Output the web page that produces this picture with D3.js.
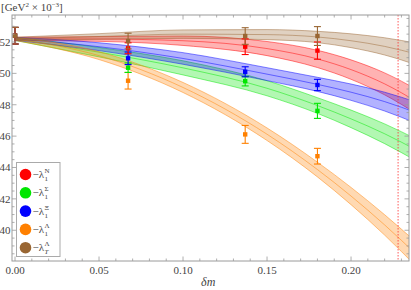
<!DOCTYPE html>
<html><head><meta charset="utf-8">
<script src="https://cdn.jsdelivr.net/npm/d3@7"></script>
<style>
html,body{margin:0;padding:0;background:#fff;}
svg{display:block;}
text{font-family:"Liberation Serif","DejaVu Serif",serif;}
</style></head>
<body><svg id="c" width="411" height="290"></svg>
<script>
// ---- data ----
const seriesNames = ["N", "Sigma", "Xi", "Lambda", "LambdaT"];
const seriesColors = ["#ff0000", "#00e600", "#0000ff", "#ff8000", "#996633"];
// sampled fit bands (centre and half width) at these δm
const bandX = [0, 0.05, 0.10, 0.15, 0.18, 0.20, 0.22, 0.24];
const bandN       = [52.2, 52.19, 52.08, 51.58, 50.92, 50.24, 49.33, 48.14];
const bandNErr    = [0.1, 0.15, 0.3, 0.45, 0.55, 0.62, 0.7, 0.78];
const bandSigma   = [52.2, 51.35, 50.35, 49.05, 47.95, 47.1, 46.15, 45.05];
const bandSigmaErr= [0.1, 0.3, 0.45, 0.48, 0.5, 0.56, 0.63, 0.7];
const bandXi      = [52.2, 51.7, 50.95, 49.95, 49.3, 48.8, 48.2, 47.45];
const bandXiErr   = [0.1, 0.25, 0.37, 0.41, 0.45, 0.52, 0.6, 0.68];
const bandLam     = [52.2, 51.13, 49.1, 46.12, 43.87, 42.18, 40.34, 38.34];
const bandLamErr  = [0.1, 0.25, 0.32, 0.4, 0.47, 0.55, 0.65, 0.78];
const bandLamT    = [52.2, 52.35, 52.5, 52.47, 52.32, 52.08, 51.72, 51.2];
const bandLamTErr = [0.1, 0.18, 0.27, 0.32, 0.36, 0.44, 0.55, 0.7];
// lattice points
const pointX = [0, 0.0673, 0.137, 0.180];
const ptN        = [52.4, 51.6, 51.7, 51.45];
const ptNErr     = [0.53, 0.35, 0.5, 0.55];
const ptSigma    = [52.4, 50.36, 49.5, 47.61];
const ptSigmaErr = [0.53, 0.3, 0.3, 0.48];
const ptXi       = [52.4, 50.96, 50.1, 49.26];
const ptXiErr    = [0.53, 0.4, 0.32, 0.36];
const ptLam      = [52.4, 49.53, 46.11, 44.72];
const ptLamErr   = [0.53, 0.53, 0.57, 0.5];
const ptLamT     = [52.4, 52.06, 52.38, 52.38];
const ptLamTErr  = [0.53, 0.5, 0.53, 0.6];
const xTicks = [0, 0.05, 0.10, 0.15, 0.20];
const yTicks = [40, 42, 44, 46, 48, 50, 52];
const cutLine = 0.228;

const bands = [
  {c: bandN, e: bandNErr}, {c: bandSigma, e: bandSigmaErr}, {c: bandXi, e: bandXiErr},
  {c: bandLam, e: bandLamErr}, {c: bandLamT, e: bandLamTErr}];
const pts = [
  {v: ptN, e: ptNErr}, {v: ptSigma, e: ptSigmaErr}, {v: ptXi, e: ptXiErr},
  {v: ptLam, e: ptLamErr}, {v: ptLamT, e: ptLamTErr}];

// ---- layout ----
const L = 12, R = 409, T = 15, B = 261;
const x = d3.scaleLinear().domain([-0.0018, 0.2345]).range([L, R]);
const y = d3.scaleLinear().domain([38.04, 53.72]).range([B, T]);
const svg = d3.select("#c");
const frameCol = "#9a9a9a", labCol = "#444";

svg.append("clipPath").attr("id", "clip").append("rect")
  .attr("x", L).attr("y", T).attr("width", R - L).attr("height", B - T);
const plot = svg.append("g").attr("clip-path", "url(#clip)");

// bands
bands.forEach((b, i) => {
  const col = seriesColors[i];
  const rows = bandX.map((xx, k) => ({x: xx, c: b.c[k], lo: b.c[k] - b.e[k], hi: b.c[k] + b.e[k]}));
  const area = d3.area().curve(d3.curveMonotoneX).x(d => x(d.x)).y0(d => y(d.lo)).y1(d => y(d.hi));
  plot.append("path").datum(rows).attr("d", area).attr("fill", col).attr("fill-opacity", 0.3);
  ["lo", "c", "hi"].forEach(key => {
    const ln = d3.line().curve(d3.curveMonotoneX).x(d => x(d.x)).y(d => y(d[key]));
    plot.append("path").datum(rows).attr("d", ln).attr("fill", "none")
      .attr("stroke", col).attr("stroke-opacity", 0.6).attr("stroke-width", 0.8);
  });
});

// dotted line
plot.append("line").attr("x1", x(cutLine)).attr("x2", x(cutLine)).attr("y1", T).attr("y2", B)
  .attr("stroke", "#ff3030").attr("stroke-width", 1).attr("stroke-dasharray", "1.5,1.5").attr("stroke-opacity", 0.8);

// points
const order = [3, 1, 2, 0, 4];
order.forEach(i => {
  const col = seriesColors[i];
  const g = plot.append("g");
  pointX.forEach((xx, k) => {
    const v = pts[i].v[k], e = pts[i].e[k];
    const px = x(xx);
    g.append("line").attr("x1", px).attr("x2", px).attr("y1", y(v - e)).attr("y2", y(v + e))
      .attr("stroke", col).attr("stroke-width", 1.1);
    [v - e, v + e].forEach(w => g.append("line").attr("x1", px - 3.5).attr("x2", px + 3.5)
      .attr("y1", y(w)).attr("y2", y(w)).attr("stroke", col).attr("stroke-width", 1.1));
    g.append("rect").attr("x", px - 2.2).attr("y", y(v) - 2.2).attr("width", 4.4).attr("height", 4.4)
      .attr("fill", col);
  });
});

// frame and ticks
const fr = svg.append("g");
fr.append("rect").attr("x", L).attr("y", T).attr("width", R - L).attr("height", B - T)
  .attr("fill", "none").attr("stroke", frameCol).attr("stroke-width", 1);
const xMinor = d3.range(0, 0.2345, 0.01);
const yMinor = d3.range(38.5, 53.72, 0.5);
function tickLine(x1, y1, x2, y2) {
  fr.append("line").attr("x1", x1).attr("y1", y1).attr("x2", x2).attr("y2", y2)
    .attr("stroke", frameCol).attr("stroke-width", 0.8);
}
xMinor.forEach(t => {
  const major = xTicks.some(m => Math.abs(m - t) < 1e-6);
  const len = major ? 4.5 : 2.5;
  tickLine(x(t), B, x(t), B - len);
  tickLine(x(t), T, x(t), T + len);
});
yMinor.forEach(t => {
  const major = yTicks.some(m => Math.abs(m - t) < 1e-6);
  const len = major ? 4.5 : 2.5;
  tickLine(L, y(t), L + len, y(t));
  tickLine(R, y(t), R - len, y(t));
});
xTicks.forEach(t => fr.append("text").attr("x", x(t)).attr("y", B + 13).attr("text-anchor", "middle")
  .attr("font-size", 11).attr("fill", labCol).text(d3.format(".2f")(t)));
yTicks.forEach(t => fr.append("text").attr("x", L - 1.5).attr("y", y(t) + 3.8).attr("text-anchor", "end")
  .attr("font-size", 11).attr("fill", labCol).text(t));

// axis labels
const ul = svg.append("text").attr("x", 1).attr("y", 11).attr("font-size", 11).attr("fill", labCol);
ul.append("tspan").text("[GeV");
ul.append("tspan").attr("font-size", 7).attr("dy", -4).text("2");
ul.append("tspan").attr("dy", 4).text(" × 10");
ul.append("tspan").attr("font-size", 7).attr("dy", -4).text("−3");
ul.append("tspan").attr("dy", 4).text("]");
svg.append("text").attr("x", x(0.115)).attr("y", 286).attr("text-anchor", "middle")
  .attr("font-size", 12).attr("font-style", "italic").attr("fill", labCol).text("δm");

// legend
const leg = svg.append("g");
leg.append("rect").attr("x", 16.5).attr("y", 162.5).attr("width", 43.5).attr("height", 94)
  .attr("fill", "#fff").attr("stroke", "#aaa").attr("stroke-width", 1);
const supers = ["N", "Σ", "Ξ", "Λ", "Λ"];
const subs = ["1", "1", "1", "1", "T"];
seriesColors.forEach((col, i) => {
  const cy = 174.5 + i * 18.3;
  leg.append("circle").attr("cx", 25.5).attr("cy", cy).attr("r", 5.8).attr("fill", col);
  const t = leg.append("text").attr("x", 32.5).attr("y", cy + 3.5).attr("font-size", 11).attr("fill", labCol).text("−λ");
  const w = t.node().getComputedTextLength();
  leg.append("text").attr("x", 32.5 + w + 0.5).attr("y", cy - 1.5).attr("font-size", 7).attr("fill", labCol).text(supers[i]);
  leg.append("text").attr("x", 32.5 + w + 0.5).attr("y", cy + 6.5).attr("font-size", 7).attr("fill", labCol)
    .attr("font-style", i === 4 ? "italic" : "normal").text(subs[i]);
});
</script></body></html>
